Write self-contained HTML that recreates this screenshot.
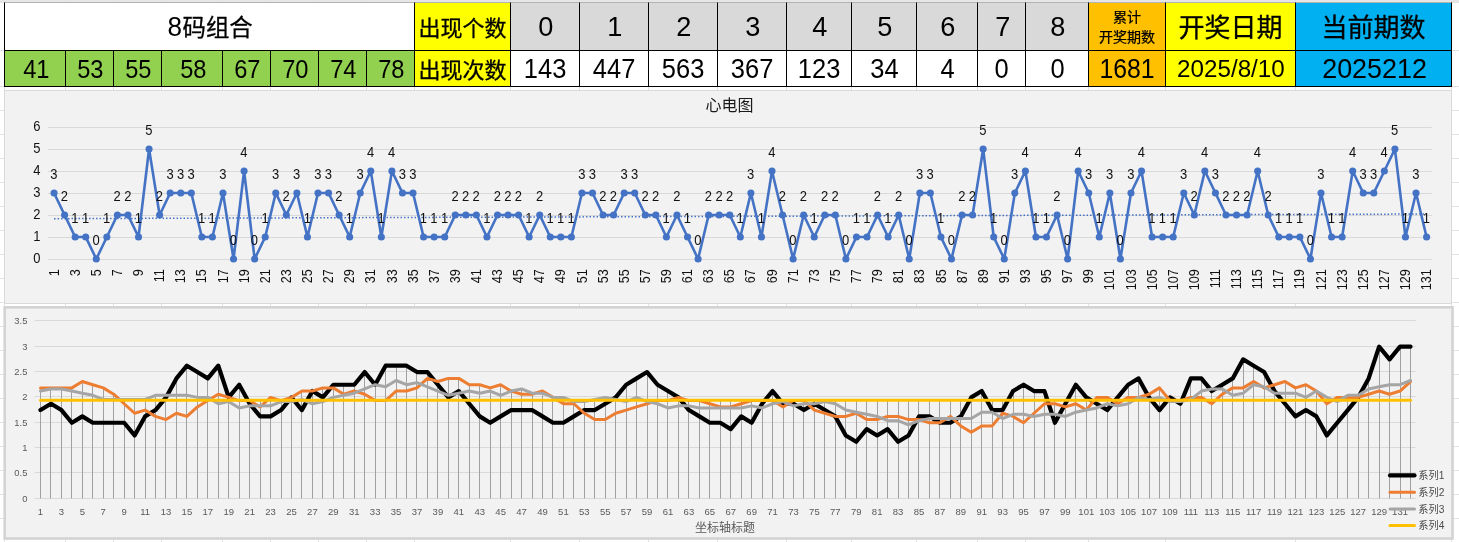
<!DOCTYPE html>
<html lang="zh"><head><meta charset="utf-8"><title>8码组合 心电图</title>
<style>
html,body{margin:0;padding:0;background:#fff;}
body{width:1459px;height:542px;position:relative;overflow:hidden;font-family:"Liberation Sans", "Noto Sans CJK SC", sans-serif;color:#000;}
svg{position:absolute;left:0;top:0;}
svg text{font-family:"Liberation Sans", "Noto Sans CJK SC", sans-serif;}
.c{position:absolute;box-sizing:border-box;border:1px solid #000;text-align:center;white-space:nowrap;overflow:hidden;margin:0;}
.c .two{display:inline-block;line-height:20px;vertical-align:middle;position:relative;top:-1.5px;}
.n{display:inline-block;}
</style></head><body>
<svg width="1459" height="542" viewBox="0 0 1459 542">
<rect x="0" y="0" width="1459" height="2" fill="#e6e6e6"/>
<rect x="0" y="2" width="1459" height="1" fill="#b4b4b4"/>
<line x1="4.5" x2="4.5" y1="0" y2="542" stroke="#e2e2e2" stroke-width="1"/>
<line x1="65.5" x2="65.5" y1="0" y2="542" stroke="#e2e2e2" stroke-width="1"/>
<line x1="113.5" x2="113.5" y1="0" y2="542" stroke="#e2e2e2" stroke-width="1"/>
<line x1="161.5" x2="161.5" y1="0" y2="542" stroke="#e2e2e2" stroke-width="1"/>
<line x1="222.5" x2="222.5" y1="0" y2="542" stroke="#e2e2e2" stroke-width="1"/>
<line x1="270.5" x2="270.5" y1="0" y2="542" stroke="#e2e2e2" stroke-width="1"/>
<line x1="318.5" x2="318.5" y1="0" y2="542" stroke="#e2e2e2" stroke-width="1"/>
<line x1="366.5" x2="366.5" y1="0" y2="542" stroke="#e2e2e2" stroke-width="1"/>
<line x1="414.5" x2="414.5" y1="0" y2="542" stroke="#e2e2e2" stroke-width="1"/>
<line x1="510.5" x2="510.5" y1="0" y2="542" stroke="#e2e2e2" stroke-width="1"/>
<line x1="579.5" x2="579.5" y1="0" y2="542" stroke="#e2e2e2" stroke-width="1"/>
<line x1="648.5" x2="648.5" y1="0" y2="542" stroke="#e2e2e2" stroke-width="1"/>
<line x1="717.5" x2="717.5" y1="0" y2="542" stroke="#e2e2e2" stroke-width="1"/>
<line x1="786.5" x2="786.5" y1="0" y2="542" stroke="#e2e2e2" stroke-width="1"/>
<line x1="851.5" x2="851.5" y1="0" y2="542" stroke="#e2e2e2" stroke-width="1"/>
<line x1="916.5" x2="916.5" y1="0" y2="542" stroke="#e2e2e2" stroke-width="1"/>
<line x1="977.5" x2="977.5" y1="0" y2="542" stroke="#e2e2e2" stroke-width="1"/>
<line x1="1025.5" x2="1025.5" y1="0" y2="542" stroke="#e2e2e2" stroke-width="1"/>
<line x1="1088.5" x2="1088.5" y1="0" y2="542" stroke="#e2e2e2" stroke-width="1"/>
<line x1="1165.5" x2="1165.5" y1="0" y2="542" stroke="#e2e2e2" stroke-width="1"/>
<line x1="1295.5" x2="1295.5" y1="0" y2="542" stroke="#e2e2e2" stroke-width="1"/>
<line x1="1451.5" x2="1451.5" y1="0" y2="542" stroke="#e2e2e2" stroke-width="1"/>
<line x1="0" x2="1459" y1="2.5" y2="2.5" stroke="#e2e2e2" stroke-width="1"/>
<line x1="0" x2="1459" y1="50.5" y2="50.5" stroke="#e2e2e2" stroke-width="1"/>
<line x1="0" x2="1459" y1="86.5" y2="86.5" stroke="#e2e2e2" stroke-width="1"/>
<line x1="0" x2="1459" y1="110.5" y2="110.5" stroke="#e2e2e2" stroke-width="1"/>
<line x1="0" x2="1459" y1="134.5" y2="134.5" stroke="#e2e2e2" stroke-width="1"/>
<line x1="0" x2="1459" y1="158.5" y2="158.5" stroke="#e2e2e2" stroke-width="1"/>
<line x1="0" x2="1459" y1="182.5" y2="182.5" stroke="#e2e2e2" stroke-width="1"/>
<line x1="0" x2="1459" y1="206.5" y2="206.5" stroke="#e2e2e2" stroke-width="1"/>
<line x1="0" x2="1459" y1="230.5" y2="230.5" stroke="#e2e2e2" stroke-width="1"/>
<line x1="0" x2="1459" y1="254.5" y2="254.5" stroke="#e2e2e2" stroke-width="1"/>
<line x1="0" x2="1459" y1="278.5" y2="278.5" stroke="#e2e2e2" stroke-width="1"/>
<line x1="0" x2="1459" y1="302.5" y2="302.5" stroke="#e2e2e2" stroke-width="1"/>
<line x1="0" x2="1459" y1="326.5" y2="326.5" stroke="#e2e2e2" stroke-width="1"/>
<line x1="0" x2="1459" y1="350.5" y2="350.5" stroke="#e2e2e2" stroke-width="1"/>
<line x1="0" x2="1459" y1="374.5" y2="374.5" stroke="#e2e2e2" stroke-width="1"/>
<line x1="0" x2="1459" y1="398.5" y2="398.5" stroke="#e2e2e2" stroke-width="1"/>
<line x1="0" x2="1459" y1="422.5" y2="422.5" stroke="#e2e2e2" stroke-width="1"/>
<line x1="0" x2="1459" y1="446.5" y2="446.5" stroke="#e2e2e2" stroke-width="1"/>
<line x1="0" x2="1459" y1="470.5" y2="470.5" stroke="#e2e2e2" stroke-width="1"/>
<line x1="0" x2="1459" y1="494.5" y2="494.5" stroke="#e2e2e2" stroke-width="1"/>
<line x1="0" x2="1459" y1="518.5" y2="518.5" stroke="#e2e2e2" stroke-width="1"/>
<rect x="4.5" y="90.5" width="1447.0" height="213.0" fill="#f2f2f2" stroke="#d9d9d9" stroke-width="1"/>
<line x1="48.0" x2="1431.8" y1="259.50" y2="259.50" stroke="#d9d9d9" stroke-width="1"/>
<text transform="translate(36.9,263.00) scale(0.94,1)" font-size="13.8" text-anchor="middle" fill="#111">0</text>
<line x1="48.0" x2="1431.8" y1="237.50" y2="237.50" stroke="#d9d9d9" stroke-width="1"/>
<text transform="translate(36.9,241.00) scale(0.94,1)" font-size="13.8" text-anchor="middle" fill="#111">1</text>
<line x1="48.0" x2="1431.8" y1="215.50" y2="215.50" stroke="#d9d9d9" stroke-width="1"/>
<text transform="translate(36.9,219.00) scale(0.94,1)" font-size="13.8" text-anchor="middle" fill="#111">2</text>
<line x1="48.0" x2="1431.8" y1="193.50" y2="193.50" stroke="#d9d9d9" stroke-width="1"/>
<text transform="translate(36.9,197.00) scale(0.94,1)" font-size="13.8" text-anchor="middle" fill="#111">3</text>
<line x1="48.0" x2="1431.8" y1="171.50" y2="171.50" stroke="#d9d9d9" stroke-width="1"/>
<text transform="translate(36.9,175.00) scale(0.94,1)" font-size="13.8" text-anchor="middle" fill="#111">4</text>
<line x1="48.0" x2="1431.8" y1="149.50" y2="149.50" stroke="#d9d9d9" stroke-width="1"/>
<text transform="translate(36.9,153.00) scale(0.94,1)" font-size="13.8" text-anchor="middle" fill="#111">5</text>
<line x1="48.0" x2="1431.8" y1="127.50" y2="127.50" stroke="#d9d9d9" stroke-width="1"/>
<text transform="translate(36.9,131.00) scale(0.94,1)" font-size="13.8" text-anchor="middle" fill="#111">6</text>
<text x="729.5" y="111" font-size="16" text-anchor="middle" fill="#1a1a1a">心电图</text>
<line x1="54.05" y1="218.68" x2="1426.59" y2="214.00" stroke="#4472c4" stroke-width="1.5" stroke-dasharray="1.5 2"/>
<polyline points="54.05,193.00 64.61,215.00 75.17,237.00 85.72,237.00 96.28,259.00 106.84,237.00 117.40,215.00 127.96,215.00 138.51,237.00 149.07,149.00 159.63,215.00 170.19,193.00 180.75,193.00 191.30,193.00 201.86,237.00 212.42,237.00 222.98,193.00 233.54,259.00 244.09,171.00 254.65,259.00 265.21,237.00 275.77,193.00 286.33,215.00 296.88,193.00 307.44,237.00 318.00,193.00 328.56,193.00 339.12,215.00 349.67,237.00 360.23,193.00 370.79,171.00 381.35,237.00 391.91,171.00 402.46,193.00 413.02,193.00 423.58,237.00 434.14,237.00 444.70,237.00 455.25,215.00 465.81,215.00 476.37,215.00 486.93,237.00 497.49,215.00 508.04,215.00 518.60,215.00 529.16,237.00 539.72,215.00 550.28,237.00 560.83,237.00 571.39,237.00 581.95,193.00 592.51,193.00 603.07,215.00 613.62,215.00 624.18,193.00 634.74,193.00 645.30,215.00 655.86,215.00 666.41,237.00 676.97,215.00 687.53,237.00 698.09,259.00 708.65,215.00 719.20,215.00 729.76,215.00 740.32,237.00 750.88,193.00 761.44,237.00 771.99,171.00 782.55,215.00 793.11,259.00 803.67,215.00 814.23,237.00 824.78,215.00 835.34,215.00 845.90,259.00 856.46,237.00 867.02,237.00 877.57,215.00 888.13,237.00 898.69,215.00 909.25,259.00 919.81,193.00 930.36,193.00 940.92,237.00 951.48,259.00 962.04,215.00 972.60,215.00 983.15,149.00 993.71,237.00 1004.27,259.00 1014.83,193.00 1025.39,171.00 1035.94,237.00 1046.50,237.00 1057.06,215.00 1067.62,259.00 1078.18,171.00 1088.73,193.00 1099.29,237.00 1109.85,193.00 1120.41,259.00 1130.97,193.00 1141.52,171.00 1152.08,237.00 1162.64,237.00 1173.20,237.00 1183.76,193.00 1194.31,215.00 1204.87,171.00 1215.43,193.00 1225.99,215.00 1236.55,215.00 1247.10,215.00 1257.66,171.00 1268.22,215.00 1278.78,237.00 1289.34,237.00 1299.89,237.00 1310.45,259.00 1321.01,193.00 1331.57,237.00 1342.13,237.00 1352.68,171.00 1363.24,193.00 1373.80,193.00 1384.36,171.00 1394.92,149.00 1405.47,237.00 1416.03,193.00 1426.59,237.00" fill="none" stroke="#4472c4" stroke-width="2.6" stroke-linejoin="round" stroke-linecap="round"/>
<circle cx="54.05" cy="193.00" r="3.55" fill="#4472c4"/>
<circle cx="64.61" cy="215.00" r="3.55" fill="#4472c4"/>
<circle cx="75.17" cy="237.00" r="3.55" fill="#4472c4"/>
<circle cx="85.72" cy="237.00" r="3.55" fill="#4472c4"/>
<circle cx="96.28" cy="259.00" r="3.55" fill="#4472c4"/>
<circle cx="106.84" cy="237.00" r="3.55" fill="#4472c4"/>
<circle cx="117.40" cy="215.00" r="3.55" fill="#4472c4"/>
<circle cx="127.96" cy="215.00" r="3.55" fill="#4472c4"/>
<circle cx="138.51" cy="237.00" r="3.55" fill="#4472c4"/>
<circle cx="149.07" cy="149.00" r="3.55" fill="#4472c4"/>
<circle cx="159.63" cy="215.00" r="3.55" fill="#4472c4"/>
<circle cx="170.19" cy="193.00" r="3.55" fill="#4472c4"/>
<circle cx="180.75" cy="193.00" r="3.55" fill="#4472c4"/>
<circle cx="191.30" cy="193.00" r="3.55" fill="#4472c4"/>
<circle cx="201.86" cy="237.00" r="3.55" fill="#4472c4"/>
<circle cx="212.42" cy="237.00" r="3.55" fill="#4472c4"/>
<circle cx="222.98" cy="193.00" r="3.55" fill="#4472c4"/>
<circle cx="233.54" cy="259.00" r="3.55" fill="#4472c4"/>
<circle cx="244.09" cy="171.00" r="3.55" fill="#4472c4"/>
<circle cx="254.65" cy="259.00" r="3.55" fill="#4472c4"/>
<circle cx="265.21" cy="237.00" r="3.55" fill="#4472c4"/>
<circle cx="275.77" cy="193.00" r="3.55" fill="#4472c4"/>
<circle cx="286.33" cy="215.00" r="3.55" fill="#4472c4"/>
<circle cx="296.88" cy="193.00" r="3.55" fill="#4472c4"/>
<circle cx="307.44" cy="237.00" r="3.55" fill="#4472c4"/>
<circle cx="318.00" cy="193.00" r="3.55" fill="#4472c4"/>
<circle cx="328.56" cy="193.00" r="3.55" fill="#4472c4"/>
<circle cx="339.12" cy="215.00" r="3.55" fill="#4472c4"/>
<circle cx="349.67" cy="237.00" r="3.55" fill="#4472c4"/>
<circle cx="360.23" cy="193.00" r="3.55" fill="#4472c4"/>
<circle cx="370.79" cy="171.00" r="3.55" fill="#4472c4"/>
<circle cx="381.35" cy="237.00" r="3.55" fill="#4472c4"/>
<circle cx="391.91" cy="171.00" r="3.55" fill="#4472c4"/>
<circle cx="402.46" cy="193.00" r="3.55" fill="#4472c4"/>
<circle cx="413.02" cy="193.00" r="3.55" fill="#4472c4"/>
<circle cx="423.58" cy="237.00" r="3.55" fill="#4472c4"/>
<circle cx="434.14" cy="237.00" r="3.55" fill="#4472c4"/>
<circle cx="444.70" cy="237.00" r="3.55" fill="#4472c4"/>
<circle cx="455.25" cy="215.00" r="3.55" fill="#4472c4"/>
<circle cx="465.81" cy="215.00" r="3.55" fill="#4472c4"/>
<circle cx="476.37" cy="215.00" r="3.55" fill="#4472c4"/>
<circle cx="486.93" cy="237.00" r="3.55" fill="#4472c4"/>
<circle cx="497.49" cy="215.00" r="3.55" fill="#4472c4"/>
<circle cx="508.04" cy="215.00" r="3.55" fill="#4472c4"/>
<circle cx="518.60" cy="215.00" r="3.55" fill="#4472c4"/>
<circle cx="529.16" cy="237.00" r="3.55" fill="#4472c4"/>
<circle cx="539.72" cy="215.00" r="3.55" fill="#4472c4"/>
<circle cx="550.28" cy="237.00" r="3.55" fill="#4472c4"/>
<circle cx="560.83" cy="237.00" r="3.55" fill="#4472c4"/>
<circle cx="571.39" cy="237.00" r="3.55" fill="#4472c4"/>
<circle cx="581.95" cy="193.00" r="3.55" fill="#4472c4"/>
<circle cx="592.51" cy="193.00" r="3.55" fill="#4472c4"/>
<circle cx="603.07" cy="215.00" r="3.55" fill="#4472c4"/>
<circle cx="613.62" cy="215.00" r="3.55" fill="#4472c4"/>
<circle cx="624.18" cy="193.00" r="3.55" fill="#4472c4"/>
<circle cx="634.74" cy="193.00" r="3.55" fill="#4472c4"/>
<circle cx="645.30" cy="215.00" r="3.55" fill="#4472c4"/>
<circle cx="655.86" cy="215.00" r="3.55" fill="#4472c4"/>
<circle cx="666.41" cy="237.00" r="3.55" fill="#4472c4"/>
<circle cx="676.97" cy="215.00" r="3.55" fill="#4472c4"/>
<circle cx="687.53" cy="237.00" r="3.55" fill="#4472c4"/>
<circle cx="698.09" cy="259.00" r="3.55" fill="#4472c4"/>
<circle cx="708.65" cy="215.00" r="3.55" fill="#4472c4"/>
<circle cx="719.20" cy="215.00" r="3.55" fill="#4472c4"/>
<circle cx="729.76" cy="215.00" r="3.55" fill="#4472c4"/>
<circle cx="740.32" cy="237.00" r="3.55" fill="#4472c4"/>
<circle cx="750.88" cy="193.00" r="3.55" fill="#4472c4"/>
<circle cx="761.44" cy="237.00" r="3.55" fill="#4472c4"/>
<circle cx="771.99" cy="171.00" r="3.55" fill="#4472c4"/>
<circle cx="782.55" cy="215.00" r="3.55" fill="#4472c4"/>
<circle cx="793.11" cy="259.00" r="3.55" fill="#4472c4"/>
<circle cx="803.67" cy="215.00" r="3.55" fill="#4472c4"/>
<circle cx="814.23" cy="237.00" r="3.55" fill="#4472c4"/>
<circle cx="824.78" cy="215.00" r="3.55" fill="#4472c4"/>
<circle cx="835.34" cy="215.00" r="3.55" fill="#4472c4"/>
<circle cx="845.90" cy="259.00" r="3.55" fill="#4472c4"/>
<circle cx="856.46" cy="237.00" r="3.55" fill="#4472c4"/>
<circle cx="867.02" cy="237.00" r="3.55" fill="#4472c4"/>
<circle cx="877.57" cy="215.00" r="3.55" fill="#4472c4"/>
<circle cx="888.13" cy="237.00" r="3.55" fill="#4472c4"/>
<circle cx="898.69" cy="215.00" r="3.55" fill="#4472c4"/>
<circle cx="909.25" cy="259.00" r="3.55" fill="#4472c4"/>
<circle cx="919.81" cy="193.00" r="3.55" fill="#4472c4"/>
<circle cx="930.36" cy="193.00" r="3.55" fill="#4472c4"/>
<circle cx="940.92" cy="237.00" r="3.55" fill="#4472c4"/>
<circle cx="951.48" cy="259.00" r="3.55" fill="#4472c4"/>
<circle cx="962.04" cy="215.00" r="3.55" fill="#4472c4"/>
<circle cx="972.60" cy="215.00" r="3.55" fill="#4472c4"/>
<circle cx="983.15" cy="149.00" r="3.55" fill="#4472c4"/>
<circle cx="993.71" cy="237.00" r="3.55" fill="#4472c4"/>
<circle cx="1004.27" cy="259.00" r="3.55" fill="#4472c4"/>
<circle cx="1014.83" cy="193.00" r="3.55" fill="#4472c4"/>
<circle cx="1025.39" cy="171.00" r="3.55" fill="#4472c4"/>
<circle cx="1035.94" cy="237.00" r="3.55" fill="#4472c4"/>
<circle cx="1046.50" cy="237.00" r="3.55" fill="#4472c4"/>
<circle cx="1057.06" cy="215.00" r="3.55" fill="#4472c4"/>
<circle cx="1067.62" cy="259.00" r="3.55" fill="#4472c4"/>
<circle cx="1078.18" cy="171.00" r="3.55" fill="#4472c4"/>
<circle cx="1088.73" cy="193.00" r="3.55" fill="#4472c4"/>
<circle cx="1099.29" cy="237.00" r="3.55" fill="#4472c4"/>
<circle cx="1109.85" cy="193.00" r="3.55" fill="#4472c4"/>
<circle cx="1120.41" cy="259.00" r="3.55" fill="#4472c4"/>
<circle cx="1130.97" cy="193.00" r="3.55" fill="#4472c4"/>
<circle cx="1141.52" cy="171.00" r="3.55" fill="#4472c4"/>
<circle cx="1152.08" cy="237.00" r="3.55" fill="#4472c4"/>
<circle cx="1162.64" cy="237.00" r="3.55" fill="#4472c4"/>
<circle cx="1173.20" cy="237.00" r="3.55" fill="#4472c4"/>
<circle cx="1183.76" cy="193.00" r="3.55" fill="#4472c4"/>
<circle cx="1194.31" cy="215.00" r="3.55" fill="#4472c4"/>
<circle cx="1204.87" cy="171.00" r="3.55" fill="#4472c4"/>
<circle cx="1215.43" cy="193.00" r="3.55" fill="#4472c4"/>
<circle cx="1225.99" cy="215.00" r="3.55" fill="#4472c4"/>
<circle cx="1236.55" cy="215.00" r="3.55" fill="#4472c4"/>
<circle cx="1247.10" cy="215.00" r="3.55" fill="#4472c4"/>
<circle cx="1257.66" cy="171.00" r="3.55" fill="#4472c4"/>
<circle cx="1268.22" cy="215.00" r="3.55" fill="#4472c4"/>
<circle cx="1278.78" cy="237.00" r="3.55" fill="#4472c4"/>
<circle cx="1289.34" cy="237.00" r="3.55" fill="#4472c4"/>
<circle cx="1299.89" cy="237.00" r="3.55" fill="#4472c4"/>
<circle cx="1310.45" cy="259.00" r="3.55" fill="#4472c4"/>
<circle cx="1321.01" cy="193.00" r="3.55" fill="#4472c4"/>
<circle cx="1331.57" cy="237.00" r="3.55" fill="#4472c4"/>
<circle cx="1342.13" cy="237.00" r="3.55" fill="#4472c4"/>
<circle cx="1352.68" cy="171.00" r="3.55" fill="#4472c4"/>
<circle cx="1363.24" cy="193.00" r="3.55" fill="#4472c4"/>
<circle cx="1373.80" cy="193.00" r="3.55" fill="#4472c4"/>
<circle cx="1384.36" cy="171.00" r="3.55" fill="#4472c4"/>
<circle cx="1394.92" cy="149.00" r="3.55" fill="#4472c4"/>
<circle cx="1405.47" cy="237.00" r="3.55" fill="#4472c4"/>
<circle cx="1416.03" cy="193.00" r="3.55" fill="#4472c4"/>
<circle cx="1426.59" cy="237.00" r="3.55" fill="#4472c4"/>
<text transform="translate(53.85,179.10) scale(0.94,1)" font-size="13.8" text-anchor="middle" fill="#111">3</text>
<text transform="translate(64.41,201.10) scale(0.94,1)" font-size="13.8" text-anchor="middle" fill="#111">2</text>
<text transform="translate(74.97,223.10) scale(0.94,1)" font-size="13.8" text-anchor="middle" fill="#111">1</text>
<text transform="translate(85.52,223.10) scale(0.94,1)" font-size="13.8" text-anchor="middle" fill="#111">1</text>
<text transform="translate(96.08,245.10) scale(0.94,1)" font-size="13.8" text-anchor="middle" fill="#111">0</text>
<text transform="translate(106.64,223.10) scale(0.94,1)" font-size="13.8" text-anchor="middle" fill="#111">1</text>
<text transform="translate(117.20,201.10) scale(0.94,1)" font-size="13.8" text-anchor="middle" fill="#111">2</text>
<text transform="translate(127.76,201.10) scale(0.94,1)" font-size="13.8" text-anchor="middle" fill="#111">2</text>
<text transform="translate(138.31,223.10) scale(0.94,1)" font-size="13.8" text-anchor="middle" fill="#111">1</text>
<text transform="translate(148.87,135.10) scale(0.94,1)" font-size="13.8" text-anchor="middle" fill="#111">5</text>
<text transform="translate(159.43,201.10) scale(0.94,1)" font-size="13.8" text-anchor="middle" fill="#111">2</text>
<text transform="translate(169.99,179.10) scale(0.94,1)" font-size="13.8" text-anchor="middle" fill="#111">3</text>
<text transform="translate(180.55,179.10) scale(0.94,1)" font-size="13.8" text-anchor="middle" fill="#111">3</text>
<text transform="translate(191.10,179.10) scale(0.94,1)" font-size="13.8" text-anchor="middle" fill="#111">3</text>
<text transform="translate(201.66,223.10) scale(0.94,1)" font-size="13.8" text-anchor="middle" fill="#111">1</text>
<text transform="translate(212.22,223.10) scale(0.94,1)" font-size="13.8" text-anchor="middle" fill="#111">1</text>
<text transform="translate(222.78,179.10) scale(0.94,1)" font-size="13.8" text-anchor="middle" fill="#111">3</text>
<text transform="translate(233.34,245.10) scale(0.94,1)" font-size="13.8" text-anchor="middle" fill="#111">0</text>
<text transform="translate(243.89,157.10) scale(0.94,1)" font-size="13.8" text-anchor="middle" fill="#111">4</text>
<text transform="translate(254.45,245.10) scale(0.94,1)" font-size="13.8" text-anchor="middle" fill="#111">0</text>
<text transform="translate(265.01,223.10) scale(0.94,1)" font-size="13.8" text-anchor="middle" fill="#111">1</text>
<text transform="translate(275.57,179.10) scale(0.94,1)" font-size="13.8" text-anchor="middle" fill="#111">3</text>
<text transform="translate(286.13,201.10) scale(0.94,1)" font-size="13.8" text-anchor="middle" fill="#111">2</text>
<text transform="translate(296.68,179.10) scale(0.94,1)" font-size="13.8" text-anchor="middle" fill="#111">3</text>
<text transform="translate(307.24,223.10) scale(0.94,1)" font-size="13.8" text-anchor="middle" fill="#111">1</text>
<text transform="translate(317.80,179.10) scale(0.94,1)" font-size="13.8" text-anchor="middle" fill="#111">3</text>
<text transform="translate(328.36,179.10) scale(0.94,1)" font-size="13.8" text-anchor="middle" fill="#111">3</text>
<text transform="translate(338.92,201.10) scale(0.94,1)" font-size="13.8" text-anchor="middle" fill="#111">2</text>
<text transform="translate(349.47,223.10) scale(0.94,1)" font-size="13.8" text-anchor="middle" fill="#111">1</text>
<text transform="translate(360.03,179.10) scale(0.94,1)" font-size="13.8" text-anchor="middle" fill="#111">3</text>
<text transform="translate(370.59,157.10) scale(0.94,1)" font-size="13.8" text-anchor="middle" fill="#111">4</text>
<text transform="translate(381.15,223.10) scale(0.94,1)" font-size="13.8" text-anchor="middle" fill="#111">1</text>
<text transform="translate(391.71,157.10) scale(0.94,1)" font-size="13.8" text-anchor="middle" fill="#111">4</text>
<text transform="translate(402.26,179.10) scale(0.94,1)" font-size="13.8" text-anchor="middle" fill="#111">3</text>
<text transform="translate(412.82,179.10) scale(0.94,1)" font-size="13.8" text-anchor="middle" fill="#111">3</text>
<text transform="translate(423.38,223.10) scale(0.94,1)" font-size="13.8" text-anchor="middle" fill="#111">1</text>
<text transform="translate(433.94,223.10) scale(0.94,1)" font-size="13.8" text-anchor="middle" fill="#111">1</text>
<text transform="translate(444.50,223.10) scale(0.94,1)" font-size="13.8" text-anchor="middle" fill="#111">1</text>
<text transform="translate(455.05,201.10) scale(0.94,1)" font-size="13.8" text-anchor="middle" fill="#111">2</text>
<text transform="translate(465.61,201.10) scale(0.94,1)" font-size="13.8" text-anchor="middle" fill="#111">2</text>
<text transform="translate(476.17,201.10) scale(0.94,1)" font-size="13.8" text-anchor="middle" fill="#111">2</text>
<text transform="translate(486.73,223.10) scale(0.94,1)" font-size="13.8" text-anchor="middle" fill="#111">1</text>
<text transform="translate(497.29,201.10) scale(0.94,1)" font-size="13.8" text-anchor="middle" fill="#111">2</text>
<text transform="translate(507.84,201.10) scale(0.94,1)" font-size="13.8" text-anchor="middle" fill="#111">2</text>
<text transform="translate(518.40,201.10) scale(0.94,1)" font-size="13.8" text-anchor="middle" fill="#111">2</text>
<text transform="translate(528.96,223.10) scale(0.94,1)" font-size="13.8" text-anchor="middle" fill="#111">1</text>
<text transform="translate(539.52,201.10) scale(0.94,1)" font-size="13.8" text-anchor="middle" fill="#111">2</text>
<text transform="translate(550.08,223.10) scale(0.94,1)" font-size="13.8" text-anchor="middle" fill="#111">1</text>
<text transform="translate(560.63,223.10) scale(0.94,1)" font-size="13.8" text-anchor="middle" fill="#111">1</text>
<text transform="translate(571.19,223.10) scale(0.94,1)" font-size="13.8" text-anchor="middle" fill="#111">1</text>
<text transform="translate(581.75,179.10) scale(0.94,1)" font-size="13.8" text-anchor="middle" fill="#111">3</text>
<text transform="translate(592.31,179.10) scale(0.94,1)" font-size="13.8" text-anchor="middle" fill="#111">3</text>
<text transform="translate(602.87,201.10) scale(0.94,1)" font-size="13.8" text-anchor="middle" fill="#111">2</text>
<text transform="translate(613.42,201.10) scale(0.94,1)" font-size="13.8" text-anchor="middle" fill="#111">2</text>
<text transform="translate(623.98,179.10) scale(0.94,1)" font-size="13.8" text-anchor="middle" fill="#111">3</text>
<text transform="translate(634.54,179.10) scale(0.94,1)" font-size="13.8" text-anchor="middle" fill="#111">3</text>
<text transform="translate(645.10,201.10) scale(0.94,1)" font-size="13.8" text-anchor="middle" fill="#111">2</text>
<text transform="translate(655.66,201.10) scale(0.94,1)" font-size="13.8" text-anchor="middle" fill="#111">2</text>
<text transform="translate(666.21,223.10) scale(0.94,1)" font-size="13.8" text-anchor="middle" fill="#111">1</text>
<text transform="translate(676.77,201.10) scale(0.94,1)" font-size="13.8" text-anchor="middle" fill="#111">2</text>
<text transform="translate(687.33,223.10) scale(0.94,1)" font-size="13.8" text-anchor="middle" fill="#111">1</text>
<text transform="translate(697.89,245.10) scale(0.94,1)" font-size="13.8" text-anchor="middle" fill="#111">0</text>
<text transform="translate(708.45,201.10) scale(0.94,1)" font-size="13.8" text-anchor="middle" fill="#111">2</text>
<text transform="translate(719.00,201.10) scale(0.94,1)" font-size="13.8" text-anchor="middle" fill="#111">2</text>
<text transform="translate(729.56,201.10) scale(0.94,1)" font-size="13.8" text-anchor="middle" fill="#111">2</text>
<text transform="translate(740.12,223.10) scale(0.94,1)" font-size="13.8" text-anchor="middle" fill="#111">1</text>
<text transform="translate(750.68,179.10) scale(0.94,1)" font-size="13.8" text-anchor="middle" fill="#111">3</text>
<text transform="translate(761.24,223.10) scale(0.94,1)" font-size="13.8" text-anchor="middle" fill="#111">1</text>
<text transform="translate(771.79,157.10) scale(0.94,1)" font-size="13.8" text-anchor="middle" fill="#111">4</text>
<text transform="translate(782.35,201.10) scale(0.94,1)" font-size="13.8" text-anchor="middle" fill="#111">2</text>
<text transform="translate(792.91,245.10) scale(0.94,1)" font-size="13.8" text-anchor="middle" fill="#111">0</text>
<text transform="translate(803.47,201.10) scale(0.94,1)" font-size="13.8" text-anchor="middle" fill="#111">2</text>
<text transform="translate(814.03,223.10) scale(0.94,1)" font-size="13.8" text-anchor="middle" fill="#111">1</text>
<text transform="translate(824.58,201.10) scale(0.94,1)" font-size="13.8" text-anchor="middle" fill="#111">2</text>
<text transform="translate(835.14,201.10) scale(0.94,1)" font-size="13.8" text-anchor="middle" fill="#111">2</text>
<text transform="translate(845.70,245.10) scale(0.94,1)" font-size="13.8" text-anchor="middle" fill="#111">0</text>
<text transform="translate(856.26,223.10) scale(0.94,1)" font-size="13.8" text-anchor="middle" fill="#111">1</text>
<text transform="translate(866.82,223.10) scale(0.94,1)" font-size="13.8" text-anchor="middle" fill="#111">1</text>
<text transform="translate(877.37,201.10) scale(0.94,1)" font-size="13.8" text-anchor="middle" fill="#111">2</text>
<text transform="translate(887.93,223.10) scale(0.94,1)" font-size="13.8" text-anchor="middle" fill="#111">1</text>
<text transform="translate(898.49,201.10) scale(0.94,1)" font-size="13.8" text-anchor="middle" fill="#111">2</text>
<text transform="translate(909.05,245.10) scale(0.94,1)" font-size="13.8" text-anchor="middle" fill="#111">0</text>
<text transform="translate(919.61,179.10) scale(0.94,1)" font-size="13.8" text-anchor="middle" fill="#111">3</text>
<text transform="translate(930.16,179.10) scale(0.94,1)" font-size="13.8" text-anchor="middle" fill="#111">3</text>
<text transform="translate(940.72,223.10) scale(0.94,1)" font-size="13.8" text-anchor="middle" fill="#111">1</text>
<text transform="translate(951.28,245.10) scale(0.94,1)" font-size="13.8" text-anchor="middle" fill="#111">0</text>
<text transform="translate(961.84,201.10) scale(0.94,1)" font-size="13.8" text-anchor="middle" fill="#111">2</text>
<text transform="translate(972.40,201.10) scale(0.94,1)" font-size="13.8" text-anchor="middle" fill="#111">2</text>
<text transform="translate(982.95,135.10) scale(0.94,1)" font-size="13.8" text-anchor="middle" fill="#111">5</text>
<text transform="translate(993.51,223.10) scale(0.94,1)" font-size="13.8" text-anchor="middle" fill="#111">1</text>
<text transform="translate(1004.07,245.10) scale(0.94,1)" font-size="13.8" text-anchor="middle" fill="#111">0</text>
<text transform="translate(1014.63,179.10) scale(0.94,1)" font-size="13.8" text-anchor="middle" fill="#111">3</text>
<text transform="translate(1025.19,157.10) scale(0.94,1)" font-size="13.8" text-anchor="middle" fill="#111">4</text>
<text transform="translate(1035.74,223.10) scale(0.94,1)" font-size="13.8" text-anchor="middle" fill="#111">1</text>
<text transform="translate(1046.30,223.10) scale(0.94,1)" font-size="13.8" text-anchor="middle" fill="#111">1</text>
<text transform="translate(1056.86,201.10) scale(0.94,1)" font-size="13.8" text-anchor="middle" fill="#111">2</text>
<text transform="translate(1067.42,245.10) scale(0.94,1)" font-size="13.8" text-anchor="middle" fill="#111">0</text>
<text transform="translate(1077.98,157.10) scale(0.94,1)" font-size="13.8" text-anchor="middle" fill="#111">4</text>
<text transform="translate(1088.53,179.10) scale(0.94,1)" font-size="13.8" text-anchor="middle" fill="#111">3</text>
<text transform="translate(1099.09,223.10) scale(0.94,1)" font-size="13.8" text-anchor="middle" fill="#111">1</text>
<text transform="translate(1109.65,179.10) scale(0.94,1)" font-size="13.8" text-anchor="middle" fill="#111">3</text>
<text transform="translate(1120.21,245.10) scale(0.94,1)" font-size="13.8" text-anchor="middle" fill="#111">0</text>
<text transform="translate(1130.77,179.10) scale(0.94,1)" font-size="13.8" text-anchor="middle" fill="#111">3</text>
<text transform="translate(1141.32,157.10) scale(0.94,1)" font-size="13.8" text-anchor="middle" fill="#111">4</text>
<text transform="translate(1151.88,223.10) scale(0.94,1)" font-size="13.8" text-anchor="middle" fill="#111">1</text>
<text transform="translate(1162.44,223.10) scale(0.94,1)" font-size="13.8" text-anchor="middle" fill="#111">1</text>
<text transform="translate(1173.00,223.10) scale(0.94,1)" font-size="13.8" text-anchor="middle" fill="#111">1</text>
<text transform="translate(1183.56,179.10) scale(0.94,1)" font-size="13.8" text-anchor="middle" fill="#111">3</text>
<text transform="translate(1194.11,201.10) scale(0.94,1)" font-size="13.8" text-anchor="middle" fill="#111">2</text>
<text transform="translate(1204.67,157.10) scale(0.94,1)" font-size="13.8" text-anchor="middle" fill="#111">4</text>
<text transform="translate(1215.23,179.10) scale(0.94,1)" font-size="13.8" text-anchor="middle" fill="#111">3</text>
<text transform="translate(1225.79,201.10) scale(0.94,1)" font-size="13.8" text-anchor="middle" fill="#111">2</text>
<text transform="translate(1236.35,201.10) scale(0.94,1)" font-size="13.8" text-anchor="middle" fill="#111">2</text>
<text transform="translate(1246.90,201.10) scale(0.94,1)" font-size="13.8" text-anchor="middle" fill="#111">2</text>
<text transform="translate(1257.46,157.10) scale(0.94,1)" font-size="13.8" text-anchor="middle" fill="#111">4</text>
<text transform="translate(1268.02,201.10) scale(0.94,1)" font-size="13.8" text-anchor="middle" fill="#111">2</text>
<text transform="translate(1278.58,223.10) scale(0.94,1)" font-size="13.8" text-anchor="middle" fill="#111">1</text>
<text transform="translate(1289.14,223.10) scale(0.94,1)" font-size="13.8" text-anchor="middle" fill="#111">1</text>
<text transform="translate(1299.69,223.10) scale(0.94,1)" font-size="13.8" text-anchor="middle" fill="#111">1</text>
<text transform="translate(1310.25,245.10) scale(0.94,1)" font-size="13.8" text-anchor="middle" fill="#111">0</text>
<text transform="translate(1320.81,179.10) scale(0.94,1)" font-size="13.8" text-anchor="middle" fill="#111">3</text>
<text transform="translate(1331.37,223.10) scale(0.94,1)" font-size="13.8" text-anchor="middle" fill="#111">1</text>
<text transform="translate(1341.93,223.10) scale(0.94,1)" font-size="13.8" text-anchor="middle" fill="#111">1</text>
<text transform="translate(1352.48,157.10) scale(0.94,1)" font-size="13.8" text-anchor="middle" fill="#111">4</text>
<text transform="translate(1363.04,179.10) scale(0.94,1)" font-size="13.8" text-anchor="middle" fill="#111">3</text>
<text transform="translate(1373.60,179.10) scale(0.94,1)" font-size="13.8" text-anchor="middle" fill="#111">3</text>
<text transform="translate(1384.16,157.10) scale(0.94,1)" font-size="13.8" text-anchor="middle" fill="#111">4</text>
<text transform="translate(1394.72,135.10) scale(0.94,1)" font-size="13.8" text-anchor="middle" fill="#111">5</text>
<text transform="translate(1405.27,223.10) scale(0.94,1)" font-size="13.8" text-anchor="middle" fill="#111">1</text>
<text transform="translate(1415.83,179.10) scale(0.94,1)" font-size="13.8" text-anchor="middle" fill="#111">3</text>
<text transform="translate(1426.39,223.10) scale(0.94,1)" font-size="13.8" text-anchor="middle" fill="#111">1</text>
<text transform="translate(58.65,269.2) rotate(-90) scale(0.9,1)" font-size="14" text-anchor="end" fill="#111">1</text>
<text transform="translate(79.77,269.2) rotate(-90) scale(0.9,1)" font-size="14" text-anchor="end" fill="#111">3</text>
<text transform="translate(100.88,269.2) rotate(-90) scale(0.9,1)" font-size="14" text-anchor="end" fill="#111">5</text>
<text transform="translate(122.00,269.2) rotate(-90) scale(0.9,1)" font-size="14" text-anchor="end" fill="#111">7</text>
<text transform="translate(143.11,269.2) rotate(-90) scale(0.9,1)" font-size="14" text-anchor="end" fill="#111">9</text>
<text transform="translate(164.23,269.2) rotate(-90) scale(0.9,1)" font-size="14" text-anchor="end" fill="#111">11</text>
<text transform="translate(185.35,269.2) rotate(-90) scale(0.9,1)" font-size="14" text-anchor="end" fill="#111">13</text>
<text transform="translate(206.46,269.2) rotate(-90) scale(0.9,1)" font-size="14" text-anchor="end" fill="#111">15</text>
<text transform="translate(227.58,269.2) rotate(-90) scale(0.9,1)" font-size="14" text-anchor="end" fill="#111">17</text>
<text transform="translate(248.69,269.2) rotate(-90) scale(0.9,1)" font-size="14" text-anchor="end" fill="#111">19</text>
<text transform="translate(269.81,269.2) rotate(-90) scale(0.9,1)" font-size="14" text-anchor="end" fill="#111">21</text>
<text transform="translate(290.93,269.2) rotate(-90) scale(0.9,1)" font-size="14" text-anchor="end" fill="#111">23</text>
<text transform="translate(312.04,269.2) rotate(-90) scale(0.9,1)" font-size="14" text-anchor="end" fill="#111">25</text>
<text transform="translate(333.16,269.2) rotate(-90) scale(0.9,1)" font-size="14" text-anchor="end" fill="#111">27</text>
<text transform="translate(354.27,269.2) rotate(-90) scale(0.9,1)" font-size="14" text-anchor="end" fill="#111">29</text>
<text transform="translate(375.39,269.2) rotate(-90) scale(0.9,1)" font-size="14" text-anchor="end" fill="#111">31</text>
<text transform="translate(396.51,269.2) rotate(-90) scale(0.9,1)" font-size="14" text-anchor="end" fill="#111">33</text>
<text transform="translate(417.62,269.2) rotate(-90) scale(0.9,1)" font-size="14" text-anchor="end" fill="#111">35</text>
<text transform="translate(438.74,269.2) rotate(-90) scale(0.9,1)" font-size="14" text-anchor="end" fill="#111">37</text>
<text transform="translate(459.85,269.2) rotate(-90) scale(0.9,1)" font-size="14" text-anchor="end" fill="#111">39</text>
<text transform="translate(480.97,269.2) rotate(-90) scale(0.9,1)" font-size="14" text-anchor="end" fill="#111">41</text>
<text transform="translate(502.09,269.2) rotate(-90) scale(0.9,1)" font-size="14" text-anchor="end" fill="#111">43</text>
<text transform="translate(523.20,269.2) rotate(-90) scale(0.9,1)" font-size="14" text-anchor="end" fill="#111">45</text>
<text transform="translate(544.32,269.2) rotate(-90) scale(0.9,1)" font-size="14" text-anchor="end" fill="#111">47</text>
<text transform="translate(565.43,269.2) rotate(-90) scale(0.9,1)" font-size="14" text-anchor="end" fill="#111">49</text>
<text transform="translate(586.55,269.2) rotate(-90) scale(0.9,1)" font-size="14" text-anchor="end" fill="#111">51</text>
<text transform="translate(607.67,269.2) rotate(-90) scale(0.9,1)" font-size="14" text-anchor="end" fill="#111">53</text>
<text transform="translate(628.78,269.2) rotate(-90) scale(0.9,1)" font-size="14" text-anchor="end" fill="#111">55</text>
<text transform="translate(649.90,269.2) rotate(-90) scale(0.9,1)" font-size="14" text-anchor="end" fill="#111">57</text>
<text transform="translate(671.01,269.2) rotate(-90) scale(0.9,1)" font-size="14" text-anchor="end" fill="#111">59</text>
<text transform="translate(692.13,269.2) rotate(-90) scale(0.9,1)" font-size="14" text-anchor="end" fill="#111">61</text>
<text transform="translate(713.25,269.2) rotate(-90) scale(0.9,1)" font-size="14" text-anchor="end" fill="#111">63</text>
<text transform="translate(734.36,269.2) rotate(-90) scale(0.9,1)" font-size="14" text-anchor="end" fill="#111">65</text>
<text transform="translate(755.48,269.2) rotate(-90) scale(0.9,1)" font-size="14" text-anchor="end" fill="#111">67</text>
<text transform="translate(776.59,269.2) rotate(-90) scale(0.9,1)" font-size="14" text-anchor="end" fill="#111">69</text>
<text transform="translate(797.71,269.2) rotate(-90) scale(0.9,1)" font-size="14" text-anchor="end" fill="#111">71</text>
<text transform="translate(818.83,269.2) rotate(-90) scale(0.9,1)" font-size="14" text-anchor="end" fill="#111">73</text>
<text transform="translate(839.94,269.2) rotate(-90) scale(0.9,1)" font-size="14" text-anchor="end" fill="#111">75</text>
<text transform="translate(861.06,269.2) rotate(-90) scale(0.9,1)" font-size="14" text-anchor="end" fill="#111">77</text>
<text transform="translate(882.17,269.2) rotate(-90) scale(0.9,1)" font-size="14" text-anchor="end" fill="#111">79</text>
<text transform="translate(903.29,269.2) rotate(-90) scale(0.9,1)" font-size="14" text-anchor="end" fill="#111">81</text>
<text transform="translate(924.41,269.2) rotate(-90) scale(0.9,1)" font-size="14" text-anchor="end" fill="#111">83</text>
<text transform="translate(945.52,269.2) rotate(-90) scale(0.9,1)" font-size="14" text-anchor="end" fill="#111">85</text>
<text transform="translate(966.64,269.2) rotate(-90) scale(0.9,1)" font-size="14" text-anchor="end" fill="#111">87</text>
<text transform="translate(987.75,269.2) rotate(-90) scale(0.9,1)" font-size="14" text-anchor="end" fill="#111">89</text>
<text transform="translate(1008.87,269.2) rotate(-90) scale(0.9,1)" font-size="14" text-anchor="end" fill="#111">91</text>
<text transform="translate(1029.99,269.2) rotate(-90) scale(0.9,1)" font-size="14" text-anchor="end" fill="#111">93</text>
<text transform="translate(1051.10,269.2) rotate(-90) scale(0.9,1)" font-size="14" text-anchor="end" fill="#111">95</text>
<text transform="translate(1072.22,269.2) rotate(-90) scale(0.9,1)" font-size="14" text-anchor="end" fill="#111">97</text>
<text transform="translate(1093.33,269.2) rotate(-90) scale(0.9,1)" font-size="14" text-anchor="end" fill="#111">99</text>
<text transform="translate(1114.45,269.2) rotate(-90) scale(0.9,1)" font-size="14" text-anchor="end" fill="#111">101</text>
<text transform="translate(1135.57,269.2) rotate(-90) scale(0.9,1)" font-size="14" text-anchor="end" fill="#111">103</text>
<text transform="translate(1156.68,269.2) rotate(-90) scale(0.9,1)" font-size="14" text-anchor="end" fill="#111">105</text>
<text transform="translate(1177.80,269.2) rotate(-90) scale(0.9,1)" font-size="14" text-anchor="end" fill="#111">107</text>
<text transform="translate(1198.91,269.2) rotate(-90) scale(0.9,1)" font-size="14" text-anchor="end" fill="#111">109</text>
<text transform="translate(1220.03,269.2) rotate(-90) scale(0.9,1)" font-size="14" text-anchor="end" fill="#111">111</text>
<text transform="translate(1241.15,269.2) rotate(-90) scale(0.9,1)" font-size="14" text-anchor="end" fill="#111">113</text>
<text transform="translate(1262.26,269.2) rotate(-90) scale(0.9,1)" font-size="14" text-anchor="end" fill="#111">115</text>
<text transform="translate(1283.38,269.2) rotate(-90) scale(0.9,1)" font-size="14" text-anchor="end" fill="#111">117</text>
<text transform="translate(1304.49,269.2) rotate(-90) scale(0.9,1)" font-size="14" text-anchor="end" fill="#111">119</text>
<text transform="translate(1325.61,269.2) rotate(-90) scale(0.9,1)" font-size="14" text-anchor="end" fill="#111">121</text>
<text transform="translate(1346.73,269.2) rotate(-90) scale(0.9,1)" font-size="14" text-anchor="end" fill="#111">123</text>
<text transform="translate(1367.84,269.2) rotate(-90) scale(0.9,1)" font-size="14" text-anchor="end" fill="#111">125</text>
<text transform="translate(1388.96,269.2) rotate(-90) scale(0.9,1)" font-size="14" text-anchor="end" fill="#111">127</text>
<text transform="translate(1410.07,269.2) rotate(-90) scale(0.9,1)" font-size="14" text-anchor="end" fill="#111">129</text>
<text transform="translate(1431.19,269.2) rotate(-90) scale(0.9,1)" font-size="14" text-anchor="end" fill="#111">131</text>
<rect x="4.7" y="307.3" width="1447.8" height="231.2" fill="#f2f2f2" stroke="#d3d3d3" stroke-width="2.6"/>
<line x1="34.5" x2="1415.8" y1="498.50" y2="498.50" stroke="#d9d9d9" stroke-width="1"/>
<text x="27.4" y="501.85" font-size="9.4" text-anchor="end" fill="#595959">0</text>
<line x1="34.5" x2="1415.8" y1="472.50" y2="472.50" stroke="#d9d9d9" stroke-width="1"/>
<text x="27.4" y="475.85" font-size="9.4" text-anchor="end" fill="#595959">0.5</text>
<line x1="34.5" x2="1415.8" y1="447.50" y2="447.50" stroke="#d9d9d9" stroke-width="1"/>
<text x="27.4" y="450.85" font-size="9.4" text-anchor="end" fill="#595959">1</text>
<line x1="34.5" x2="1415.8" y1="422.50" y2="422.50" stroke="#d9d9d9" stroke-width="1"/>
<text x="27.4" y="425.85" font-size="9.4" text-anchor="end" fill="#595959">1.5</text>
<line x1="34.5" x2="1415.8" y1="396.50" y2="396.50" stroke="#d9d9d9" stroke-width="1"/>
<text x="27.4" y="399.85" font-size="9.4" text-anchor="end" fill="#595959">2</text>
<line x1="34.5" x2="1415.8" y1="371.50" y2="371.50" stroke="#d9d9d9" stroke-width="1"/>
<text x="27.4" y="374.85" font-size="9.4" text-anchor="end" fill="#595959">2.5</text>
<line x1="34.5" x2="1415.8" y1="346.50" y2="346.50" stroke="#d9d9d9" stroke-width="1"/>
<text x="27.4" y="349.85" font-size="9.4" text-anchor="end" fill="#595959">3</text>
<line x1="34.5" x2="1415.8" y1="320.50" y2="320.50" stroke="#d9d9d9" stroke-width="1"/>
<text x="27.4" y="323.85" font-size="9.4" text-anchor="end" fill="#595959">3.5</text>
<line x1="40.5" x2="40.5" y1="387.89" y2="498.50" stroke="#a0a0a0" stroke-width="1"/>
<line x1="50.5" x2="50.5" y1="387.89" y2="498.50" stroke="#a0a0a0" stroke-width="1"/>
<line x1="61.5" x2="61.5" y1="387.89" y2="498.50" stroke="#a0a0a0" stroke-width="1"/>
<line x1="71.5" x2="71.5" y1="387.89" y2="498.50" stroke="#a0a0a0" stroke-width="1"/>
<line x1="82.5" x2="82.5" y1="381.56" y2="498.50" stroke="#a0a0a0" stroke-width="1"/>
<line x1="92.5" x2="92.5" y1="384.73" y2="498.50" stroke="#a0a0a0" stroke-width="1"/>
<line x1="103.5" x2="103.5" y1="387.89" y2="498.50" stroke="#a0a0a0" stroke-width="1"/>
<line x1="113.5" x2="113.5" y1="394.23" y2="498.50" stroke="#a0a0a0" stroke-width="1"/>
<line x1="124.5" x2="124.5" y1="399.51" y2="498.50" stroke="#a0a0a0" stroke-width="1"/>
<line x1="134.5" x2="134.5" y1="399.51" y2="498.50" stroke="#a0a0a0" stroke-width="1"/>
<line x1="145.5" x2="145.5" y1="399.51" y2="498.50" stroke="#a0a0a0" stroke-width="1"/>
<line x1="155.5" x2="155.5" y1="395.29" y2="498.50" stroke="#a0a0a0" stroke-width="1"/>
<line x1="165.5" x2="165.5" y1="395.29" y2="498.50" stroke="#a0a0a0" stroke-width="1"/>
<line x1="176.5" x2="176.5" y1="378.39" y2="498.50" stroke="#a0a0a0" stroke-width="1"/>
<line x1="186.5" x2="186.5" y1="365.71" y2="498.50" stroke="#a0a0a0" stroke-width="1"/>
<line x1="197.5" x2="197.5" y1="372.05" y2="498.50" stroke="#a0a0a0" stroke-width="1"/>
<line x1="207.5" x2="207.5" y1="378.39" y2="498.50" stroke="#a0a0a0" stroke-width="1"/>
<line x1="218.5" x2="218.5" y1="365.71" y2="498.50" stroke="#a0a0a0" stroke-width="1"/>
<line x1="228.5" x2="228.5" y1="397.40" y2="498.50" stroke="#a0a0a0" stroke-width="1"/>
<line x1="239.5" x2="239.5" y1="384.73" y2="498.50" stroke="#a0a0a0" stroke-width="1"/>
<line x1="249.5" x2="249.5" y1="400.19" y2="498.50" stroke="#a0a0a0" stroke-width="1"/>
<line x1="260.5" x2="260.5" y1="400.19" y2="498.50" stroke="#a0a0a0" stroke-width="1"/>
<line x1="270.5" x2="270.5" y1="397.40" y2="498.50" stroke="#a0a0a0" stroke-width="1"/>
<line x1="281.5" x2="281.5" y1="400.19" y2="498.50" stroke="#a0a0a0" stroke-width="1"/>
<line x1="291.5" x2="291.5" y1="397.40" y2="498.50" stroke="#a0a0a0" stroke-width="1"/>
<line x1="301.5" x2="301.5" y1="391.06" y2="498.50" stroke="#a0a0a0" stroke-width="1"/>
<line x1="312.5" x2="312.5" y1="391.06" y2="498.50" stroke="#a0a0a0" stroke-width="1"/>
<line x1="322.5" x2="322.5" y1="387.89" y2="498.50" stroke="#a0a0a0" stroke-width="1"/>
<line x1="333.5" x2="333.5" y1="384.73" y2="498.50" stroke="#a0a0a0" stroke-width="1"/>
<line x1="343.5" x2="343.5" y1="384.73" y2="498.50" stroke="#a0a0a0" stroke-width="1"/>
<line x1="354.5" x2="354.5" y1="384.73" y2="498.50" stroke="#a0a0a0" stroke-width="1"/>
<line x1="364.5" x2="364.5" y1="372.05" y2="498.50" stroke="#a0a0a0" stroke-width="1"/>
<line x1="375.5" x2="375.5" y1="384.73" y2="498.50" stroke="#a0a0a0" stroke-width="1"/>
<line x1="385.5" x2="385.5" y1="365.71" y2="498.50" stroke="#a0a0a0" stroke-width="1"/>
<line x1="396.5" x2="396.5" y1="365.71" y2="498.50" stroke="#a0a0a0" stroke-width="1"/>
<line x1="406.5" x2="406.5" y1="365.71" y2="498.50" stroke="#a0a0a0" stroke-width="1"/>
<line x1="416.5" x2="416.5" y1="372.05" y2="498.50" stroke="#a0a0a0" stroke-width="1"/>
<line x1="427.5" x2="427.5" y1="372.05" y2="498.50" stroke="#a0a0a0" stroke-width="1"/>
<line x1="437.5" x2="437.5" y1="381.56" y2="498.50" stroke="#a0a0a0" stroke-width="1"/>
<line x1="448.5" x2="448.5" y1="378.39" y2="498.50" stroke="#a0a0a0" stroke-width="1"/>
<line x1="458.5" x2="458.5" y1="378.39" y2="498.50" stroke="#a0a0a0" stroke-width="1"/>
<line x1="469.5" x2="469.5" y1="384.73" y2="498.50" stroke="#a0a0a0" stroke-width="1"/>
<line x1="479.5" x2="479.5" y1="384.73" y2="498.50" stroke="#a0a0a0" stroke-width="1"/>
<line x1="490.5" x2="490.5" y1="387.89" y2="498.50" stroke="#a0a0a0" stroke-width="1"/>
<line x1="500.5" x2="500.5" y1="384.73" y2="498.50" stroke="#a0a0a0" stroke-width="1"/>
<line x1="511.5" x2="511.5" y1="391.06" y2="498.50" stroke="#a0a0a0" stroke-width="1"/>
<line x1="521.5" x2="521.5" y1="388.95" y2="498.50" stroke="#a0a0a0" stroke-width="1"/>
<line x1="532.5" x2="532.5" y1="393.18" y2="498.50" stroke="#a0a0a0" stroke-width="1"/>
<line x1="542.5" x2="542.5" y1="391.06" y2="498.50" stroke="#a0a0a0" stroke-width="1"/>
<line x1="552.5" x2="552.5" y1="397.40" y2="498.50" stroke="#a0a0a0" stroke-width="1"/>
<line x1="563.5" x2="563.5" y1="397.40" y2="498.50" stroke="#a0a0a0" stroke-width="1"/>
<line x1="573.5" x2="573.5" y1="400.19" y2="498.50" stroke="#a0a0a0" stroke-width="1"/>
<line x1="584.5" x2="584.5" y1="400.19" y2="498.50" stroke="#a0a0a0" stroke-width="1"/>
<line x1="594.5" x2="594.5" y1="399.51" y2="498.50" stroke="#a0a0a0" stroke-width="1"/>
<line x1="605.5" x2="605.5" y1="397.40" y2="498.50" stroke="#a0a0a0" stroke-width="1"/>
<line x1="615.5" x2="615.5" y1="397.40" y2="498.50" stroke="#a0a0a0" stroke-width="1"/>
<line x1="626.5" x2="626.5" y1="384.73" y2="498.50" stroke="#a0a0a0" stroke-width="1"/>
<line x1="636.5" x2="636.5" y1="378.39" y2="498.50" stroke="#a0a0a0" stroke-width="1"/>
<line x1="647.5" x2="647.5" y1="372.05" y2="498.50" stroke="#a0a0a0" stroke-width="1"/>
<line x1="657.5" x2="657.5" y1="384.73" y2="498.50" stroke="#a0a0a0" stroke-width="1"/>
<line x1="667.5" x2="667.5" y1="391.06" y2="498.50" stroke="#a0a0a0" stroke-width="1"/>
<line x1="678.5" x2="678.5" y1="397.40" y2="498.50" stroke="#a0a0a0" stroke-width="1"/>
<line x1="688.5" x2="688.5" y1="400.19" y2="498.50" stroke="#a0a0a0" stroke-width="1"/>
<line x1="699.5" x2="699.5" y1="400.19" y2="498.50" stroke="#a0a0a0" stroke-width="1"/>
<line x1="709.5" x2="709.5" y1="400.19" y2="498.50" stroke="#a0a0a0" stroke-width="1"/>
<line x1="720.5" x2="720.5" y1="400.19" y2="498.50" stroke="#a0a0a0" stroke-width="1"/>
<line x1="730.5" x2="730.5" y1="400.19" y2="498.50" stroke="#a0a0a0" stroke-width="1"/>
<line x1="741.5" x2="741.5" y1="400.19" y2="498.50" stroke="#a0a0a0" stroke-width="1"/>
<line x1="751.5" x2="751.5" y1="400.19" y2="498.50" stroke="#a0a0a0" stroke-width="1"/>
<line x1="762.5" x2="762.5" y1="400.19" y2="498.50" stroke="#a0a0a0" stroke-width="1"/>
<line x1="772.5" x2="772.5" y1="391.06" y2="498.50" stroke="#a0a0a0" stroke-width="1"/>
<line x1="783.5" x2="783.5" y1="400.19" y2="498.50" stroke="#a0a0a0" stroke-width="1"/>
<line x1="793.5" x2="793.5" y1="400.19" y2="498.50" stroke="#a0a0a0" stroke-width="1"/>
<line x1="803.5" x2="803.5" y1="400.19" y2="498.50" stroke="#a0a0a0" stroke-width="1"/>
<line x1="814.5" x2="814.5" y1="400.19" y2="498.50" stroke="#a0a0a0" stroke-width="1"/>
<line x1="824.5" x2="824.5" y1="400.19" y2="498.50" stroke="#a0a0a0" stroke-width="1"/>
<line x1="835.5" x2="835.5" y1="400.19" y2="498.50" stroke="#a0a0a0" stroke-width="1"/>
<line x1="845.5" x2="845.5" y1="400.19" y2="498.50" stroke="#a0a0a0" stroke-width="1"/>
<line x1="856.5" x2="856.5" y1="400.19" y2="498.50" stroke="#a0a0a0" stroke-width="1"/>
<line x1="866.5" x2="866.5" y1="400.19" y2="498.50" stroke="#a0a0a0" stroke-width="1"/>
<line x1="877.5" x2="877.5" y1="400.19" y2="498.50" stroke="#a0a0a0" stroke-width="1"/>
<line x1="887.5" x2="887.5" y1="400.19" y2="498.50" stroke="#a0a0a0" stroke-width="1"/>
<line x1="898.5" x2="898.5" y1="400.19" y2="498.50" stroke="#a0a0a0" stroke-width="1"/>
<line x1="908.5" x2="908.5" y1="400.19" y2="498.50" stroke="#a0a0a0" stroke-width="1"/>
<line x1="918.5" x2="918.5" y1="400.19" y2="498.50" stroke="#a0a0a0" stroke-width="1"/>
<line x1="929.5" x2="929.5" y1="400.19" y2="498.50" stroke="#a0a0a0" stroke-width="1"/>
<line x1="939.5" x2="939.5" y1="400.19" y2="498.50" stroke="#a0a0a0" stroke-width="1"/>
<line x1="950.5" x2="950.5" y1="400.19" y2="498.50" stroke="#a0a0a0" stroke-width="1"/>
<line x1="960.5" x2="960.5" y1="400.19" y2="498.50" stroke="#a0a0a0" stroke-width="1"/>
<line x1="971.5" x2="971.5" y1="397.40" y2="498.50" stroke="#a0a0a0" stroke-width="1"/>
<line x1="981.5" x2="981.5" y1="391.06" y2="498.50" stroke="#a0a0a0" stroke-width="1"/>
<line x1="992.5" x2="992.5" y1="400.19" y2="498.50" stroke="#a0a0a0" stroke-width="1"/>
<line x1="1002.5" x2="1002.5" y1="400.19" y2="498.50" stroke="#a0a0a0" stroke-width="1"/>
<line x1="1013.5" x2="1013.5" y1="391.06" y2="498.50" stroke="#a0a0a0" stroke-width="1"/>
<line x1="1023.5" x2="1023.5" y1="384.73" y2="498.50" stroke="#a0a0a0" stroke-width="1"/>
<line x1="1034.5" x2="1034.5" y1="391.06" y2="498.50" stroke="#a0a0a0" stroke-width="1"/>
<line x1="1044.5" x2="1044.5" y1="391.06" y2="498.50" stroke="#a0a0a0" stroke-width="1"/>
<line x1="1054.5" x2="1054.5" y1="400.19" y2="498.50" stroke="#a0a0a0" stroke-width="1"/>
<line x1="1065.5" x2="1065.5" y1="400.19" y2="498.50" stroke="#a0a0a0" stroke-width="1"/>
<line x1="1075.5" x2="1075.5" y1="384.73" y2="498.50" stroke="#a0a0a0" stroke-width="1"/>
<line x1="1086.5" x2="1086.5" y1="397.40" y2="498.50" stroke="#a0a0a0" stroke-width="1"/>
<line x1="1096.5" x2="1096.5" y1="397.40" y2="498.50" stroke="#a0a0a0" stroke-width="1"/>
<line x1="1107.5" x2="1107.5" y1="397.40" y2="498.50" stroke="#a0a0a0" stroke-width="1"/>
<line x1="1117.5" x2="1117.5" y1="397.40" y2="498.50" stroke="#a0a0a0" stroke-width="1"/>
<line x1="1128.5" x2="1128.5" y1="384.73" y2="498.50" stroke="#a0a0a0" stroke-width="1"/>
<line x1="1138.5" x2="1138.5" y1="378.39" y2="498.50" stroke="#a0a0a0" stroke-width="1"/>
<line x1="1149.5" x2="1149.5" y1="394.23" y2="498.50" stroke="#a0a0a0" stroke-width="1"/>
<line x1="1159.5" x2="1159.5" y1="387.89" y2="498.50" stroke="#a0a0a0" stroke-width="1"/>
<line x1="1169.5" x2="1169.5" y1="397.40" y2="498.50" stroke="#a0a0a0" stroke-width="1"/>
<line x1="1180.5" x2="1180.5" y1="400.19" y2="498.50" stroke="#a0a0a0" stroke-width="1"/>
<line x1="1190.5" x2="1190.5" y1="378.39" y2="498.50" stroke="#a0a0a0" stroke-width="1"/>
<line x1="1201.5" x2="1201.5" y1="378.39" y2="498.50" stroke="#a0a0a0" stroke-width="1"/>
<line x1="1211.5" x2="1211.5" y1="388.95" y2="498.50" stroke="#a0a0a0" stroke-width="1"/>
<line x1="1222.5" x2="1222.5" y1="384.73" y2="498.50" stroke="#a0a0a0" stroke-width="1"/>
<line x1="1232.5" x2="1232.5" y1="378.39" y2="498.50" stroke="#a0a0a0" stroke-width="1"/>
<line x1="1243.5" x2="1243.5" y1="359.38" y2="498.50" stroke="#a0a0a0" stroke-width="1"/>
<line x1="1253.5" x2="1253.5" y1="365.71" y2="498.50" stroke="#a0a0a0" stroke-width="1"/>
<line x1="1264.5" x2="1264.5" y1="372.05" y2="498.50" stroke="#a0a0a0" stroke-width="1"/>
<line x1="1274.5" x2="1274.5" y1="384.73" y2="498.50" stroke="#a0a0a0" stroke-width="1"/>
<line x1="1285.5" x2="1285.5" y1="381.56" y2="498.50" stroke="#a0a0a0" stroke-width="1"/>
<line x1="1295.5" x2="1295.5" y1="387.89" y2="498.50" stroke="#a0a0a0" stroke-width="1"/>
<line x1="1305.5" x2="1305.5" y1="384.73" y2="498.50" stroke="#a0a0a0" stroke-width="1"/>
<line x1="1316.5" x2="1316.5" y1="391.06" y2="498.50" stroke="#a0a0a0" stroke-width="1"/>
<line x1="1326.5" x2="1326.5" y1="397.40" y2="498.50" stroke="#a0a0a0" stroke-width="1"/>
<line x1="1337.5" x2="1337.5" y1="397.40" y2="498.50" stroke="#a0a0a0" stroke-width="1"/>
<line x1="1347.5" x2="1347.5" y1="395.29" y2="498.50" stroke="#a0a0a0" stroke-width="1"/>
<line x1="1358.5" x2="1358.5" y1="395.29" y2="498.50" stroke="#a0a0a0" stroke-width="1"/>
<line x1="1368.5" x2="1368.5" y1="378.39" y2="498.50" stroke="#a0a0a0" stroke-width="1"/>
<line x1="1379.5" x2="1379.5" y1="346.70" y2="498.50" stroke="#a0a0a0" stroke-width="1"/>
<line x1="1389.5" x2="1389.5" y1="359.38" y2="498.50" stroke="#a0a0a0" stroke-width="1"/>
<line x1="1400.5" x2="1400.5" y1="346.70" y2="498.50" stroke="#a0a0a0" stroke-width="1"/>
<line x1="1410.5" x2="1410.5" y1="346.70" y2="498.50" stroke="#a0a0a0" stroke-width="1"/>
<polyline points="40.50,410.07 50.96,403.74 61.42,410.07 71.87,422.75 82.33,416.41 92.79,422.75 103.25,422.75 113.71,422.75 124.16,422.75 134.62,435.43 145.08,416.41 155.54,410.07 166.00,397.40 176.45,378.39 186.91,365.71 197.37,372.05 207.83,378.39 218.29,365.71 228.74,397.40 239.20,384.73 249.66,403.74 260.12,416.41 270.58,416.41 281.03,410.07 291.49,397.40 301.95,410.07 312.41,391.06 322.87,397.40 333.32,384.73 343.78,384.73 354.24,384.73 364.70,372.05 375.16,384.73 385.61,365.71 396.07,365.71 406.53,365.71 416.99,372.05 427.45,372.05 437.90,384.73 448.36,397.40 458.82,391.06 469.28,403.74 479.74,416.41 490.19,422.75 500.65,416.41 511.11,410.07 521.57,410.07 532.03,410.07 542.48,416.41 552.94,422.75 563.40,422.75 573.86,416.41 584.32,410.07 594.77,410.07 605.23,403.74 615.69,397.40 626.15,384.73 636.61,378.39 647.06,372.05 657.52,384.73 667.98,391.06 678.44,397.40 688.90,410.07 699.35,416.41 709.81,422.75 720.27,422.75 730.73,429.09 741.19,416.41 751.64,422.75 762.10,403.74 772.56,391.06 783.02,403.74 793.48,403.74 803.93,410.07 814.39,403.74 824.85,410.07 835.31,416.41 845.77,435.43 856.22,441.76 866.68,429.09 877.14,435.43 887.60,429.09 898.06,441.76 908.51,435.43 918.97,416.41 929.43,416.41 939.89,422.75 950.35,422.75 960.80,416.41 971.26,397.40 981.72,391.06 992.18,410.07 1002.64,410.07 1013.09,391.06 1023.55,384.73 1034.01,391.06 1044.47,391.06 1054.93,422.75 1065.38,403.74 1075.84,384.73 1086.30,397.40 1096.76,403.74 1107.22,410.07 1117.67,397.40 1128.13,384.73 1138.59,378.39 1149.05,397.40 1159.51,410.07 1169.96,397.40 1180.42,403.74 1190.88,378.39 1201.34,378.39 1211.80,391.06 1222.25,384.73 1232.71,378.39 1243.17,359.38 1253.63,365.71 1264.09,372.05 1274.54,391.06 1285.00,403.74 1295.46,416.41 1305.92,410.07 1316.38,416.41 1326.83,435.43 1337.29,422.75 1347.75,410.07 1358.21,397.40 1368.67,378.39 1379.12,346.70 1389.58,359.38 1400.04,346.70 1410.50,346.70" fill="none" stroke="#000000" stroke-width="4.2" stroke-linejoin="round" stroke-linecap="round"/>
<polyline points="40.50,387.89 50.96,387.89 61.42,387.89 71.87,387.89 82.33,381.56 92.79,384.73 103.25,387.89 113.71,394.23 124.16,403.74 134.62,413.24 145.08,410.07 155.54,416.41 166.00,419.58 176.45,413.24 186.91,416.41 197.37,406.91 207.83,400.57 218.29,394.23 228.74,397.40 239.20,400.57 249.66,400.57 260.12,406.91 270.58,397.40 281.03,400.57 291.49,397.40 301.95,391.06 312.41,391.06 322.87,387.89 333.32,387.89 343.78,394.23 354.24,391.06 364.70,394.23 375.16,400.57 385.61,400.57 396.07,391.06 406.53,391.06 416.99,387.89 427.45,378.39 437.90,381.56 448.36,378.39 458.82,378.39 469.28,384.73 479.74,384.73 490.19,387.89 500.65,384.73 511.11,391.06 521.57,394.23 532.03,394.23 542.48,391.06 552.94,397.40 563.40,403.74 573.86,403.74 584.32,413.24 594.77,419.58 605.23,419.58 615.69,413.24 626.15,410.07 636.61,406.91 647.06,403.74 657.52,400.57 667.98,400.57 678.44,397.40 688.90,400.57 699.35,400.57 709.81,403.74 720.27,406.91 730.73,406.91 741.19,403.74 751.64,400.57 762.10,400.57 772.56,400.57 783.02,406.91 793.48,400.57 803.93,400.57 814.39,410.07 824.85,413.24 835.31,416.41 845.77,416.41 856.22,413.24 866.68,419.58 877.14,419.58 887.60,416.41 898.06,416.41 908.51,419.58 918.97,419.58 929.43,422.75 939.89,422.75 950.35,416.41 960.80,425.92 971.26,432.26 981.72,425.92 992.18,425.92 1002.64,413.24 1013.09,416.41 1023.55,422.75 1034.01,413.24 1044.47,403.74 1054.93,403.74 1065.38,406.91 1075.84,403.74 1086.30,410.07 1096.76,397.40 1107.22,397.40 1117.67,403.74 1128.13,397.40 1138.59,397.40 1149.05,394.23 1159.51,387.89 1169.96,400.57 1180.42,400.57 1190.88,397.40 1201.34,397.40 1211.80,403.74 1222.25,394.23 1232.71,387.89 1243.17,387.89 1253.63,381.56 1264.09,387.89 1274.54,384.73 1285.00,381.56 1295.46,387.89 1305.92,384.73 1316.38,391.06 1326.83,403.74 1337.29,397.40 1347.75,397.40 1358.21,397.40 1368.67,394.23 1379.12,391.06 1389.58,394.23 1400.04,391.06 1410.50,381.56" fill="none" stroke="#ed7d31" stroke-width="3" stroke-linejoin="round" stroke-linecap="round"/>
<polyline points="40.50,391.06 50.96,388.95 61.42,388.95 71.87,391.06 82.33,393.18 92.79,395.29 103.25,399.51 113.71,399.51 124.16,399.51 134.62,399.51 145.08,399.51 155.54,395.29 166.00,395.29 176.45,395.29 186.91,395.29 197.37,397.40 207.83,397.40 218.29,403.74 228.74,401.62 239.20,407.96 249.66,405.85 260.12,405.85 270.58,405.85 281.03,401.62 291.49,401.62 301.95,399.51 312.41,403.74 322.87,401.62 333.32,397.40 343.78,395.29 354.24,393.18 364.70,388.95 375.16,384.73 385.61,386.84 396.07,380.50 406.53,384.73 416.99,382.61 427.45,386.84 437.90,391.06 448.36,395.29 458.82,393.18 469.28,391.06 479.74,393.18 490.19,391.06 500.65,395.29 511.11,391.06 521.57,388.95 532.03,393.18 542.48,393.18 552.94,397.40 563.40,397.40 573.86,401.62 584.32,401.62 594.77,399.51 605.23,397.40 615.69,399.51 626.15,401.62 636.61,397.40 647.06,401.62 657.52,403.74 667.98,407.96 678.44,405.85 688.90,405.85 699.35,407.96 709.81,407.96 720.27,407.96 730.73,407.96 741.19,407.96 751.64,405.85 762.10,407.96 772.56,403.74 783.02,401.62 793.48,405.85 803.93,403.74 814.39,403.74 824.85,401.62 835.31,403.74 845.77,410.07 856.22,412.19 866.68,414.30 877.14,416.41 887.60,420.64 898.06,420.64 908.51,424.86 918.97,420.64 929.43,418.52 939.89,418.52 950.35,418.52 960.80,418.52 971.26,418.52 981.72,412.19 992.18,412.19 1002.64,418.52 1013.09,414.30 1023.55,414.30 1034.01,416.41 1044.47,414.30 1054.93,414.30 1065.38,416.41 1075.84,412.19 1086.30,410.07 1096.76,407.96 1107.22,403.74 1117.67,405.85 1128.13,403.74 1138.59,397.40 1149.05,399.51 1159.51,397.40 1169.96,401.62 1180.42,401.62 1190.88,399.51 1201.34,391.06 1211.80,388.95 1222.25,388.95 1232.71,395.29 1243.17,393.18 1253.63,384.73 1264.09,386.84 1274.54,393.18 1285.00,393.18 1295.46,393.18 1305.92,397.40 1316.38,391.06 1326.83,397.40 1337.29,401.62 1347.75,395.29 1358.21,395.29 1368.67,388.95 1379.12,386.84 1389.58,384.73 1400.04,384.73 1410.50,380.50" fill="none" stroke="#a5a5a5" stroke-width="3" stroke-linejoin="round" stroke-linecap="round"/>
<polyline points="40.50,400.19 50.96,400.19 61.42,400.19 71.87,400.19 82.33,400.19 92.79,400.19 103.25,400.19 113.71,400.19 124.16,400.19 134.62,400.19 145.08,400.19 155.54,400.19 166.00,400.19 176.45,400.19 186.91,400.19 197.37,400.19 207.83,400.19 218.29,400.19 228.74,400.19 239.20,400.19 249.66,400.19 260.12,400.19 270.58,400.19 281.03,400.19 291.49,400.19 301.95,400.19 312.41,400.19 322.87,400.19 333.32,400.19 343.78,400.19 354.24,400.19 364.70,400.19 375.16,400.19 385.61,400.19 396.07,400.19 406.53,400.19 416.99,400.19 427.45,400.19 437.90,400.19 448.36,400.19 458.82,400.19 469.28,400.19 479.74,400.19 490.19,400.19 500.65,400.19 511.11,400.19 521.57,400.19 532.03,400.19 542.48,400.19 552.94,400.19 563.40,400.19 573.86,400.19 584.32,400.19 594.77,400.19 605.23,400.19 615.69,400.19 626.15,400.19 636.61,400.19 647.06,400.19 657.52,400.19 667.98,400.19 678.44,400.19 688.90,400.19 699.35,400.19 709.81,400.19 720.27,400.19 730.73,400.19 741.19,400.19 751.64,400.19 762.10,400.19 772.56,400.19 783.02,400.19 793.48,400.19 803.93,400.19 814.39,400.19 824.85,400.19 835.31,400.19 845.77,400.19 856.22,400.19 866.68,400.19 877.14,400.19 887.60,400.19 898.06,400.19 908.51,400.19 918.97,400.19 929.43,400.19 939.89,400.19 950.35,400.19 960.80,400.19 971.26,400.19 981.72,400.19 992.18,400.19 1002.64,400.19 1013.09,400.19 1023.55,400.19 1034.01,400.19 1044.47,400.19 1054.93,400.19 1065.38,400.19 1075.84,400.19 1086.30,400.19 1096.76,400.19 1107.22,400.19 1117.67,400.19 1128.13,400.19 1138.59,400.19 1149.05,400.19 1159.51,400.19 1169.96,400.19 1180.42,400.19 1190.88,400.19 1201.34,400.19 1211.80,400.19 1222.25,400.19 1232.71,400.19 1243.17,400.19 1253.63,400.19 1264.09,400.19 1274.54,400.19 1285.00,400.19 1295.46,400.19 1305.92,400.19 1316.38,400.19 1326.83,400.19 1337.29,400.19 1347.75,400.19 1358.21,400.19 1368.67,400.19 1379.12,400.19 1389.58,400.19 1400.04,400.19 1410.50,400.19" fill="none" stroke="#ffc000" stroke-width="3" stroke-linejoin="round" stroke-linecap="round"/>
<text x="40.50" y="515" font-size="9.5" text-anchor="middle" fill="#595959">1</text>
<text x="61.42" y="515" font-size="9.5" text-anchor="middle" fill="#595959">3</text>
<text x="82.33" y="515" font-size="9.5" text-anchor="middle" fill="#595959">5</text>
<text x="103.25" y="515" font-size="9.5" text-anchor="middle" fill="#595959">7</text>
<text x="124.16" y="515" font-size="9.5" text-anchor="middle" fill="#595959">9</text>
<text x="145.08" y="515" font-size="9.5" text-anchor="middle" fill="#595959">11</text>
<text x="166.00" y="515" font-size="9.5" text-anchor="middle" fill="#595959">13</text>
<text x="186.91" y="515" font-size="9.5" text-anchor="middle" fill="#595959">15</text>
<text x="207.83" y="515" font-size="9.5" text-anchor="middle" fill="#595959">17</text>
<text x="228.74" y="515" font-size="9.5" text-anchor="middle" fill="#595959">19</text>
<text x="249.66" y="515" font-size="9.5" text-anchor="middle" fill="#595959">21</text>
<text x="270.58" y="515" font-size="9.5" text-anchor="middle" fill="#595959">23</text>
<text x="291.49" y="515" font-size="9.5" text-anchor="middle" fill="#595959">25</text>
<text x="312.41" y="515" font-size="9.5" text-anchor="middle" fill="#595959">27</text>
<text x="333.32" y="515" font-size="9.5" text-anchor="middle" fill="#595959">29</text>
<text x="354.24" y="515" font-size="9.5" text-anchor="middle" fill="#595959">31</text>
<text x="375.16" y="515" font-size="9.5" text-anchor="middle" fill="#595959">33</text>
<text x="396.07" y="515" font-size="9.5" text-anchor="middle" fill="#595959">35</text>
<text x="416.99" y="515" font-size="9.5" text-anchor="middle" fill="#595959">37</text>
<text x="437.90" y="515" font-size="9.5" text-anchor="middle" fill="#595959">39</text>
<text x="458.82" y="515" font-size="9.5" text-anchor="middle" fill="#595959">41</text>
<text x="479.74" y="515" font-size="9.5" text-anchor="middle" fill="#595959">43</text>
<text x="500.65" y="515" font-size="9.5" text-anchor="middle" fill="#595959">45</text>
<text x="521.57" y="515" font-size="9.5" text-anchor="middle" fill="#595959">47</text>
<text x="542.48" y="515" font-size="9.5" text-anchor="middle" fill="#595959">49</text>
<text x="563.40" y="515" font-size="9.5" text-anchor="middle" fill="#595959">51</text>
<text x="584.32" y="515" font-size="9.5" text-anchor="middle" fill="#595959">53</text>
<text x="605.23" y="515" font-size="9.5" text-anchor="middle" fill="#595959">55</text>
<text x="626.15" y="515" font-size="9.5" text-anchor="middle" fill="#595959">57</text>
<text x="647.06" y="515" font-size="9.5" text-anchor="middle" fill="#595959">59</text>
<text x="667.98" y="515" font-size="9.5" text-anchor="middle" fill="#595959">61</text>
<text x="688.90" y="515" font-size="9.5" text-anchor="middle" fill="#595959">63</text>
<text x="709.81" y="515" font-size="9.5" text-anchor="middle" fill="#595959">65</text>
<text x="730.73" y="515" font-size="9.5" text-anchor="middle" fill="#595959">67</text>
<text x="751.64" y="515" font-size="9.5" text-anchor="middle" fill="#595959">69</text>
<text x="772.56" y="515" font-size="9.5" text-anchor="middle" fill="#595959">71</text>
<text x="793.48" y="515" font-size="9.5" text-anchor="middle" fill="#595959">73</text>
<text x="814.39" y="515" font-size="9.5" text-anchor="middle" fill="#595959">75</text>
<text x="835.31" y="515" font-size="9.5" text-anchor="middle" fill="#595959">77</text>
<text x="856.22" y="515" font-size="9.5" text-anchor="middle" fill="#595959">79</text>
<text x="877.14" y="515" font-size="9.5" text-anchor="middle" fill="#595959">81</text>
<text x="898.06" y="515" font-size="9.5" text-anchor="middle" fill="#595959">83</text>
<text x="918.97" y="515" font-size="9.5" text-anchor="middle" fill="#595959">85</text>
<text x="939.89" y="515" font-size="9.5" text-anchor="middle" fill="#595959">87</text>
<text x="960.80" y="515" font-size="9.5" text-anchor="middle" fill="#595959">89</text>
<text x="981.72" y="515" font-size="9.5" text-anchor="middle" fill="#595959">91</text>
<text x="1002.64" y="515" font-size="9.5" text-anchor="middle" fill="#595959">93</text>
<text x="1023.55" y="515" font-size="9.5" text-anchor="middle" fill="#595959">95</text>
<text x="1044.47" y="515" font-size="9.5" text-anchor="middle" fill="#595959">97</text>
<text x="1065.38" y="515" font-size="9.5" text-anchor="middle" fill="#595959">99</text>
<text x="1086.30" y="515" font-size="9.5" text-anchor="middle" fill="#595959">101</text>
<text x="1107.22" y="515" font-size="9.5" text-anchor="middle" fill="#595959">103</text>
<text x="1128.13" y="515" font-size="9.5" text-anchor="middle" fill="#595959">105</text>
<text x="1149.05" y="515" font-size="9.5" text-anchor="middle" fill="#595959">107</text>
<text x="1169.96" y="515" font-size="9.5" text-anchor="middle" fill="#595959">109</text>
<text x="1190.88" y="515" font-size="9.5" text-anchor="middle" fill="#595959">111</text>
<text x="1211.80" y="515" font-size="9.5" text-anchor="middle" fill="#595959">113</text>
<text x="1232.71" y="515" font-size="9.5" text-anchor="middle" fill="#595959">115</text>
<text x="1253.63" y="515" font-size="9.5" text-anchor="middle" fill="#595959">117</text>
<text x="1274.54" y="515" font-size="9.5" text-anchor="middle" fill="#595959">119</text>
<text x="1295.46" y="515" font-size="9.5" text-anchor="middle" fill="#595959">121</text>
<text x="1316.38" y="515" font-size="9.5" text-anchor="middle" fill="#595959">123</text>
<text x="1337.29" y="515" font-size="9.5" text-anchor="middle" fill="#595959">125</text>
<text x="1358.21" y="515" font-size="9.5" text-anchor="middle" fill="#595959">127</text>
<text x="1379.12" y="515" font-size="9.5" text-anchor="middle" fill="#595959">129</text>
<text x="1400.04" y="515" font-size="9.5" text-anchor="middle" fill="#595959">131</text>
<text x="725" y="532.4" font-size="12" text-anchor="middle" fill="#595959">坐标轴标题</text>
<line x1="1390" x2="1414.5" y1="475.4" y2="475.4" stroke="#000000" stroke-width="4.2" stroke-linecap="round"/>
<text x="1418.3" y="479.10" font-size="10.2" fill="#4a4a4a">系列1</text>
<line x1="1390" x2="1414.5" y1="492.3" y2="492.3" stroke="#ed7d31" stroke-width="3" stroke-linecap="round"/>
<text x="1418.3" y="496.00" font-size="10.2" fill="#4a4a4a">系列2</text>
<line x1="1390" x2="1414.5" y1="508.9" y2="508.9" stroke="#a5a5a5" stroke-width="3" stroke-linecap="round"/>
<text x="1418.3" y="512.60" font-size="10.2" fill="#4a4a4a">系列3</text>
<line x1="1390" x2="1414.5" y1="525.6" y2="525.6" stroke="#ffc000" stroke-width="3" stroke-linecap="round"/>
<text x="1418.3" y="529.30" font-size="10.2" fill="#4a4a4a">系列4</text>
</svg>
<div class="c" style="left:4px;top:2px;width:411px;height:49px;background:#fff;font-size:23.4px;line-height:47.8px;border-top-color:#b4b4b4;-webkit-text-stroke:0.3px #000;padding-left:1px;"><span style="font-size:27.5px;-webkit-text-stroke:0;display:inline-block;transform:scaleX(.95);vertical-align:-0.5px">8</span>码组合</div>
<div class="c" style="left:4px;top:50px;width:62px;height:37px;background:#92d050;font-size:25.7px;line-height:36.6px;padding-left:2px;"><span class="n" style="transform:scaleX(0.92)">41</span></div>
<div class="c" style="left:65px;top:50px;width:49px;height:37px;background:#92d050;font-size:25.7px;line-height:36.6px;padding-left:2px;"><span class="n" style="transform:scaleX(0.92)">53</span></div>
<div class="c" style="left:113px;top:50px;width:49px;height:37px;background:#92d050;font-size:25.7px;line-height:36.6px;padding-left:2px;"><span class="n" style="transform:scaleX(0.92)">55</span></div>
<div class="c" style="left:161px;top:50px;width:62px;height:37px;background:#92d050;font-size:25.7px;line-height:36.6px;padding-left:2px;"><span class="n" style="transform:scaleX(0.92)">58</span></div>
<div class="c" style="left:222px;top:50px;width:49px;height:37px;background:#92d050;font-size:25.7px;line-height:36.6px;padding-left:2px;"><span class="n" style="transform:scaleX(0.92)">67</span></div>
<div class="c" style="left:270px;top:50px;width:49px;height:37px;background:#92d050;font-size:25.7px;line-height:36.6px;padding-left:2px;"><span class="n" style="transform:scaleX(0.92)">70</span></div>
<div class="c" style="left:318px;top:50px;width:49px;height:37px;background:#92d050;font-size:25.7px;line-height:36.6px;padding-left:2px;"><span class="n" style="transform:scaleX(0.92)">74</span></div>
<div class="c" style="left:366px;top:50px;width:49px;height:37px;background:#92d050;font-size:25.7px;line-height:36.6px;padding-left:2px;"><span class="n" style="transform:scaleX(0.92)">78</span></div>
<div class="c" style="left:414px;top:2px;width:97px;height:49px;background:#ffff00;font-size:22px;line-height:52.0px;border-top-color:#b4b4b4;-webkit-text-stroke:0.3px #000;">出现个数</div>
<div class="c" style="left:414px;top:50px;width:97px;height:37px;background:#ffff00;font-size:22px;line-height:39px;-webkit-text-stroke:0.3px #000;">出现次数</div>
<div class="c" style="left:510px;top:2px;width:70px;height:49px;background:#d9d9d9;font-size:28px;line-height:48.0px;border-top-color:#b4b4b4;padding-left:2px;"><span class="n" style="transform:scaleX(0.97)">0</span></div>
<div class="c" style="left:510px;top:50px;width:70px;height:37px;background:#fff;font-size:27.7px;line-height:36.0px;padding-left:1px;"><span class="n" style="transform:scaleX(0.92)">143</span></div>
<div class="c" style="left:579px;top:2px;width:70px;height:49px;background:#d9d9d9;font-size:28px;line-height:48.0px;border-top-color:#b4b4b4;padding-left:2px;"><span class="n" style="transform:scaleX(0.97)">1</span></div>
<div class="c" style="left:579px;top:50px;width:70px;height:37px;background:#fff;font-size:27.7px;line-height:36.0px;padding-left:1px;"><span class="n" style="transform:scaleX(0.92)">447</span></div>
<div class="c" style="left:648px;top:2px;width:70px;height:49px;background:#d9d9d9;font-size:28px;line-height:48.0px;border-top-color:#b4b4b4;padding-left:2px;"><span class="n" style="transform:scaleX(0.97)">2</span></div>
<div class="c" style="left:648px;top:50px;width:70px;height:37px;background:#fff;font-size:27.7px;line-height:36.0px;padding-left:1px;"><span class="n" style="transform:scaleX(0.92)">563</span></div>
<div class="c" style="left:717px;top:2px;width:70px;height:49px;background:#d9d9d9;font-size:28px;line-height:48.0px;border-top-color:#b4b4b4;padding-left:2px;"><span class="n" style="transform:scaleX(0.97)">3</span></div>
<div class="c" style="left:717px;top:50px;width:70px;height:37px;background:#fff;font-size:27.7px;line-height:36.0px;padding-left:1px;"><span class="n" style="transform:scaleX(0.92)">367</span></div>
<div class="c" style="left:786px;top:2px;width:66px;height:49px;background:#d9d9d9;font-size:28px;line-height:48.0px;border-top-color:#b4b4b4;padding-left:2px;"><span class="n" style="transform:scaleX(0.97)">4</span></div>
<div class="c" style="left:786px;top:50px;width:66px;height:37px;background:#fff;font-size:27.7px;line-height:36.0px;padding-left:1px;"><span class="n" style="transform:scaleX(0.92)">123</span></div>
<div class="c" style="left:851px;top:2px;width:66px;height:49px;background:#d9d9d9;font-size:28px;line-height:48.0px;border-top-color:#b4b4b4;padding-left:2px;"><span class="n" style="transform:scaleX(0.97)">5</span></div>
<div class="c" style="left:851px;top:50px;width:66px;height:37px;background:#fff;font-size:27.7px;line-height:36.0px;padding-left:1px;"><span class="n" style="transform:scaleX(0.92)">34</span></div>
<div class="c" style="left:916px;top:2px;width:62px;height:49px;background:#d9d9d9;font-size:28px;line-height:48.0px;border-top-color:#b4b4b4;padding-left:2px;"><span class="n" style="transform:scaleX(0.97)">6</span></div>
<div class="c" style="left:916px;top:50px;width:62px;height:37px;background:#fff;font-size:27.7px;line-height:36.0px;padding-left:1px;"><span class="n" style="transform:scaleX(0.92)">4</span></div>
<div class="c" style="left:977px;top:2px;width:49px;height:49px;background:#d9d9d9;font-size:28px;line-height:48.0px;border-top-color:#b4b4b4;padding-left:2px;"><span class="n" style="transform:scaleX(0.97)">7</span></div>
<div class="c" style="left:977px;top:50px;width:49px;height:37px;background:#fff;font-size:27.7px;line-height:36.0px;padding-left:1px;"><span class="n" style="transform:scaleX(0.92)">0</span></div>
<div class="c" style="left:1025px;top:2px;width:64px;height:49px;background:#d9d9d9;font-size:28px;line-height:48.0px;border-top-color:#b4b4b4;padding-left:2px;"><span class="n" style="transform:scaleX(0.97)">8</span></div>
<div class="c" style="left:1025px;top:50px;width:64px;height:37px;background:#fff;font-size:27.7px;line-height:36.0px;padding-left:1px;"><span class="n" style="transform:scaleX(0.92)">0</span></div>
<div class="c" style="left:1088px;top:2px;width:78px;height:49px;background:#ffc000;font-size:14px;line-height:48.0px;border-top-color:#b4b4b4;-webkit-text-stroke:0.25px #000;"><span class="two">累计<br>开奖期数</span></div>
<div class="c" style="left:1088px;top:50px;width:78px;height:37px;background:#ffc000;font-size:27.9px;line-height:36.0px;"><span class="n" style="transform:scaleX(0.89)">1681</span></div>
<div class="c" style="left:1165px;top:2px;width:131px;height:49px;background:#ffff00;font-size:26px;line-height:51.4px;border-top-color:#b4b4b4;-webkit-text-stroke:0.3px #000;">开奖日期</div>
<div class="c" style="left:1165px;top:50px;width:131px;height:37px;background:#ffff00;font-size:24.7px;line-height:36.0px;"><span class="n" style="transform:scaleX(0.98)">2025/8/10</span></div>
<div class="c" style="left:1295px;top:2px;width:157px;height:49px;background:#00b0f0;font-size:26px;line-height:51px;border-top-color:#b4b4b4;-webkit-text-stroke:0.3px #000;">当前期数</div>
<div class="c" style="left:1295px;top:50px;width:157px;height:37px;background:#00b0f0;font-size:28px;line-height:36.0px;padding-left:2px;"><span class="n" style="transform:scaleX(0.96)">2025212</span></div>
</body></html>
